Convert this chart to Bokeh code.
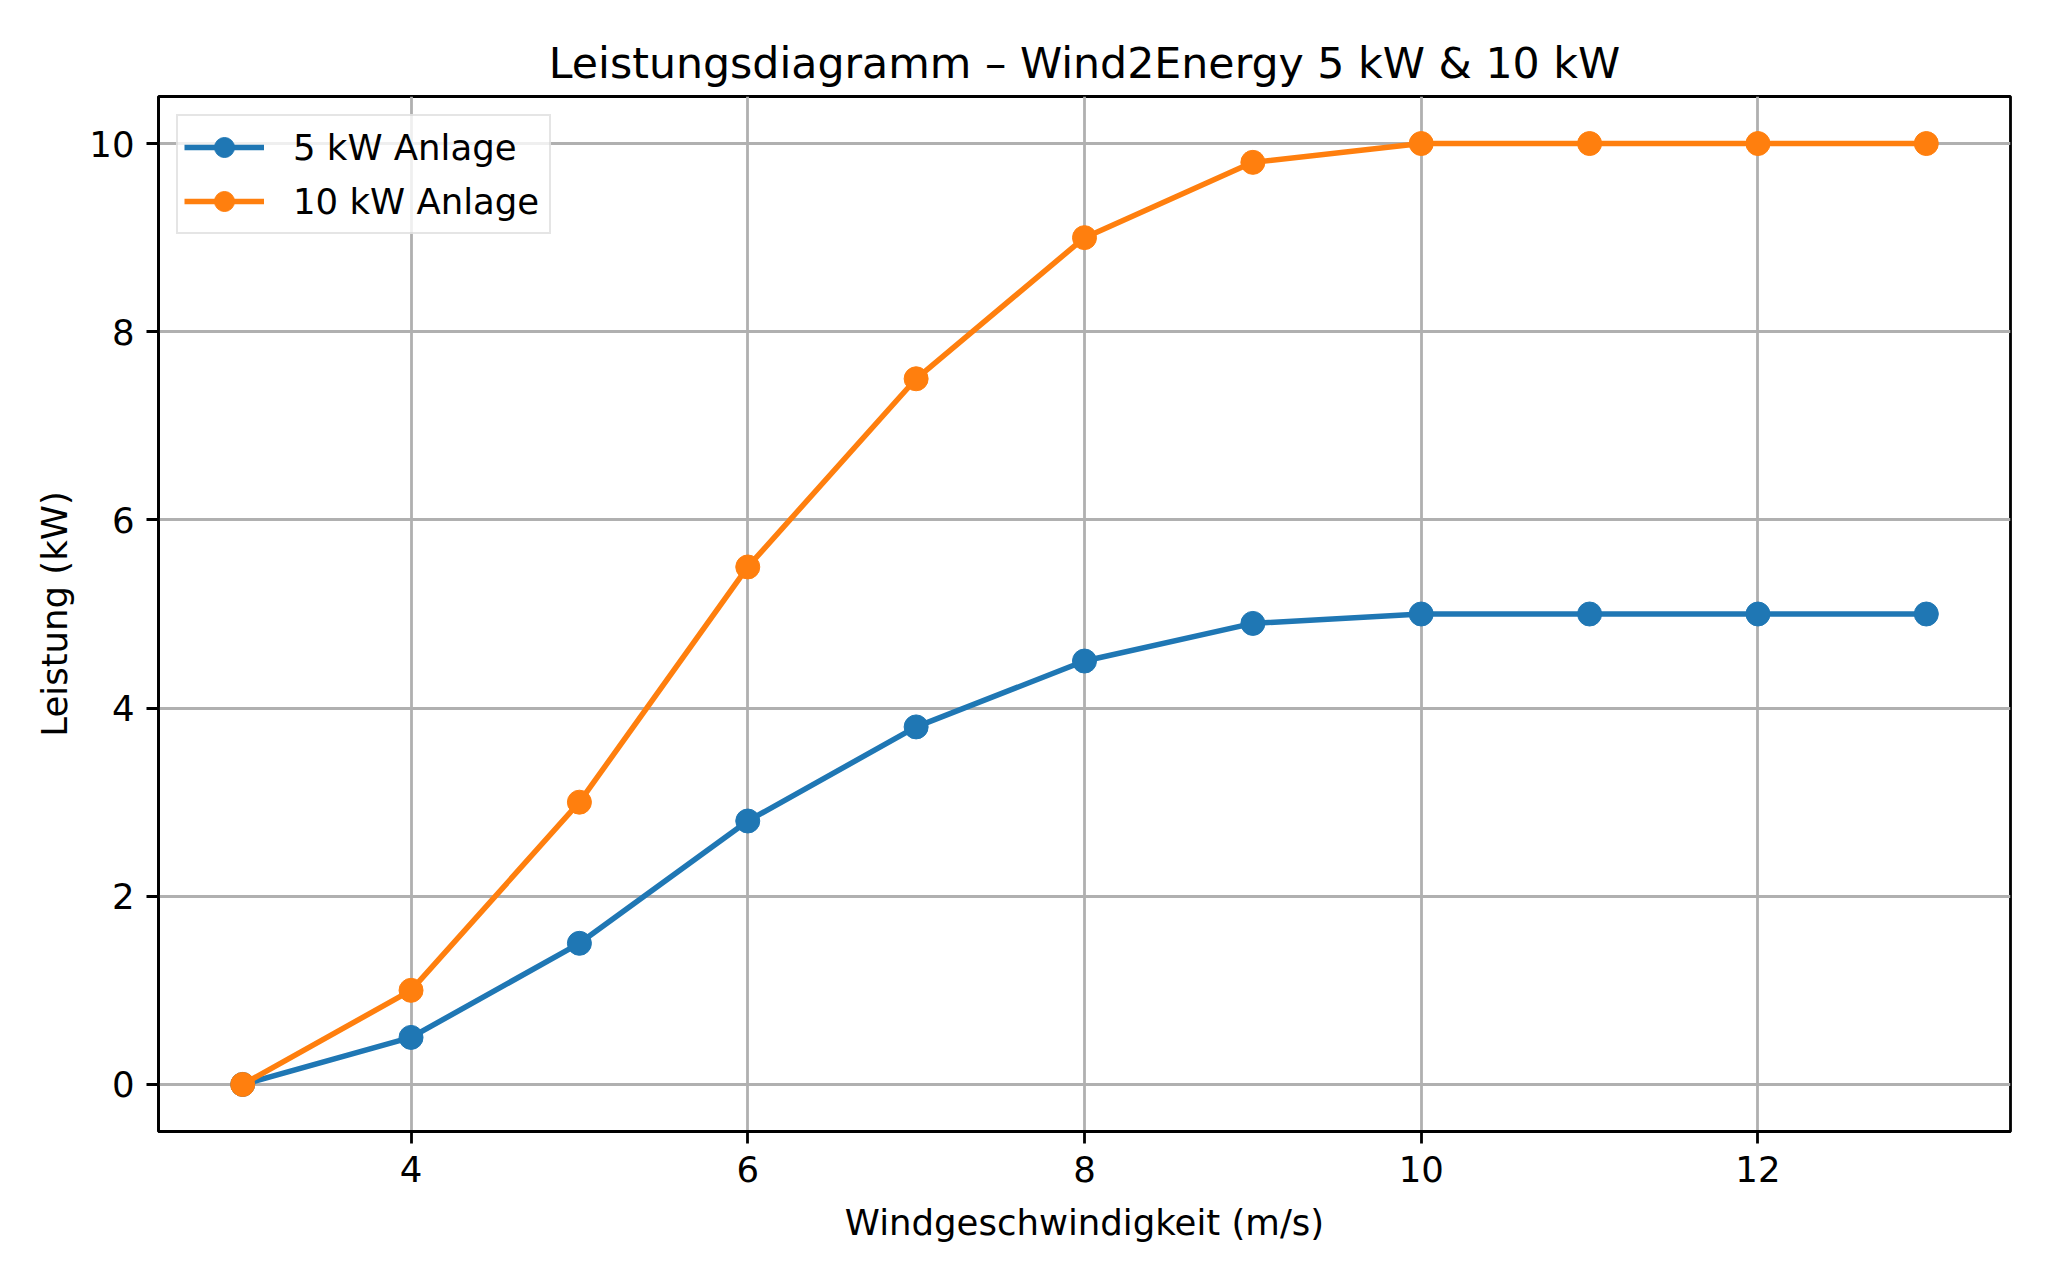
from bokeh.plotting import figure
from bokeh.models import Range1d, FixedTicker, Legend, LegendItem
from bokeh.embed import file_html
from bokeh.resources import INLINE

# wind speed (m/s) and power curves (kW)
wind_speed = [3, 4, 5, 6, 7, 8, 9, 10, 11, 12, 13]
power_5kw = [0, 0.5, 1.5, 2.8, 3.8, 4.5, 4.9, 5, 5, 5, 5]
power_10kw = [0, 1, 3, 5.5, 7.5, 9, 9.8, 10, 10, 10, 10]
series_labels = ["5 kW Anlage", "10 kW Anlage"]
series_colors = ["#1f77b4", "#ff7f0e"]
x_ticks = [4, 6, 8, 10, 12]
y_ticks = [0, 2, 4, 6, 8, 10]

FONT = "DejaVu Sans"
SMALL = "35.5px"

p = figure(width=2032, height=1264,
           x_range=Range1d(2.5, 13.5), y_range=Range1d(-0.5, 10.5),
           title="Leistungsdiagramm – Wind2Energy 5 kW & 10 kW",
           output_backend="svg", toolbar_location=None, tools="",
           min_border_left=158, min_border_right=22,
           min_border_top=96, min_border_bottom=133)

p.title.align = "center"
p.title.text_font = FONT
p.title.text_font_size = "42.7px"
p.title.text_font_style = "normal"
p.title.text_color = "black"
p.title.standoff = 18

p.outline_line_color = "black"
p.outline_line_width = 2.8
p.outline_line_alpha = 1.0

for ax in (p.xaxis, p.yaxis):
    ax.axis_line_width = 2.8
    ax.axis_line_color = "black"
    ax.major_tick_line_width = 2.8
    ax.major_tick_out = 12
    ax.major_tick_in = 0
    ax.minor_tick_line_color = None
    ax.major_label_text_font = FONT
    ax.major_label_text_font_size = SMALL
    ax.major_label_text_color = "black"
    ax.major_label_standoff = 12
    ax.axis_label_text_font = FONT
    ax.axis_label_text_font_size = SMALL
    ax.axis_label_text_font_style = "normal"
    ax.axis_label_text_color = "black"

p.xaxis.ticker = FixedTicker(ticks=x_ticks)
p.yaxis.ticker = FixedTicker(ticks=y_ticks)
p.xaxis.axis_label = "Windgeschwindigkeit (m/s)"
p.yaxis.axis_label = "Leistung (kW)"
p.xaxis.axis_label_standoff = 17
p.yaxis.axis_label_standoff = 11

p.xgrid.ticker = FixedTicker(ticks=x_ticks)
p.ygrid.ticker = FixedTicker(ticks=y_ticks)
for g in (p.xgrid, p.ygrid):
    g.grid_line_color = "#b0b0b0"
    g.grid_line_width = 2.8

items = []
for ys, label, color in zip([power_5kw, power_10kw], series_labels, series_colors):
    ln = p.line(wind_speed, ys, line_color=color, line_width=5.5)
    sc = p.scatter(wind_speed, ys, size=24, fill_color=color, line_color=color)
    items.append(LegendItem(label=label, renderers=[ln, sc]))

legend = Legend(items=items, location="top_left")
legend.margin = 18
legend.padding = 6
legend.glyph_width = 80
legend.glyph_height = 50
legend.label_height = 50
legend.label_width = 250
legend.spacing = 4
legend.label_standoff = 29
legend.label_text_font = FONT
legend.label_text_font_size = SMALL
legend.label_text_color = "black"
legend.border_line_color = "#cccccc"
legend.border_line_width = 2.8
legend.background_fill_color = "white"
legend.background_fill_alpha = 0.8
p.add_layout(legend)

open("out.html", "w").write(file_html(p, INLINE))
